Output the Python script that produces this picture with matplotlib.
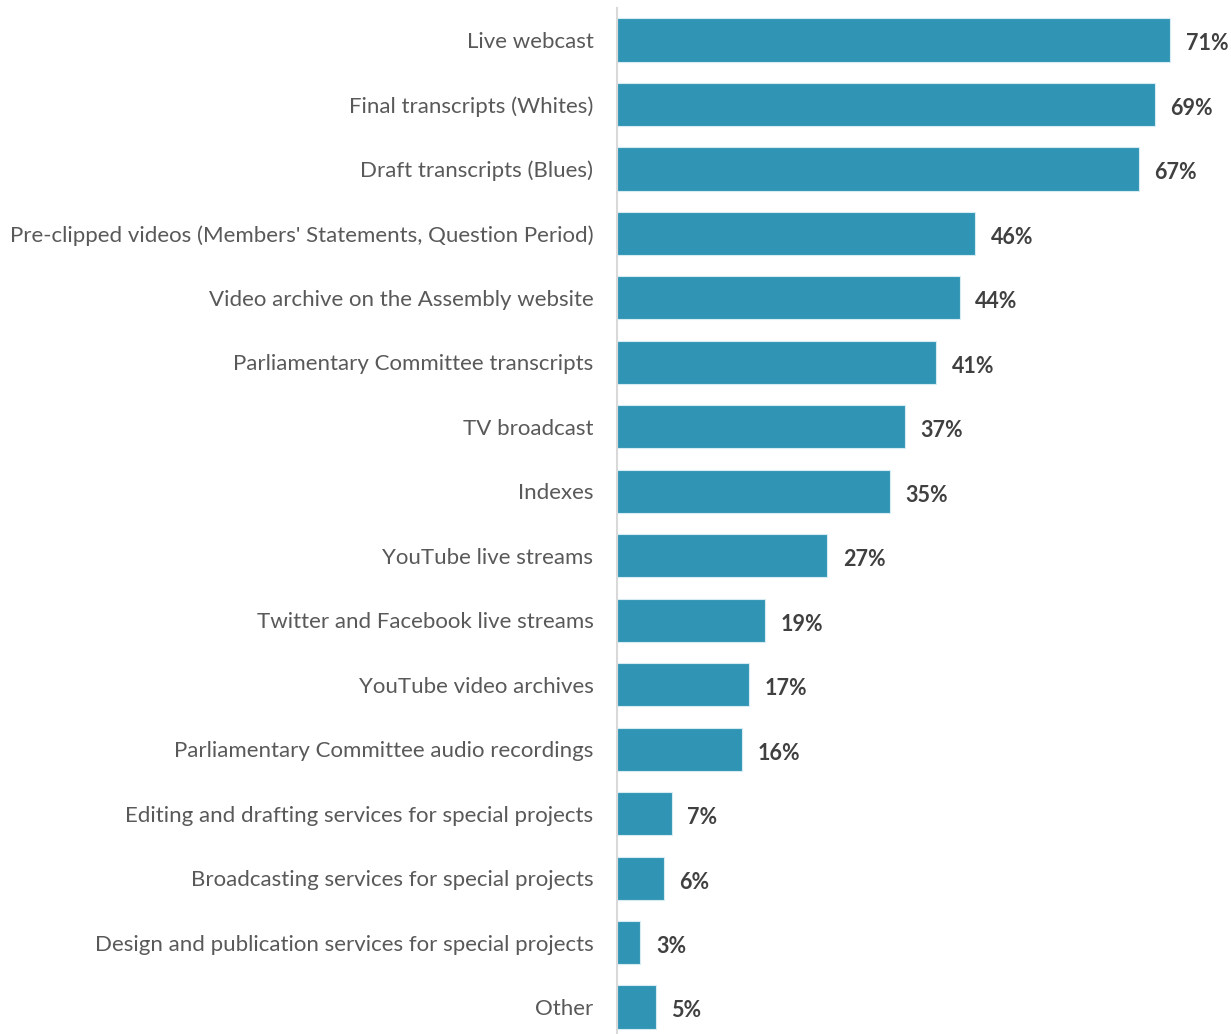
#
# Horizontal bar chart of services used
#

import matplotlib.pyplot as plt

# Categories and percentages
categories = [
    "Live webcast",
    "Final transcripts (Whites)",
    "Draft transcripts (Blues)",
    "Pre-clipped videos (Members' Statements, Question Period)",
    "Video archive on the Assembly website",
    "Parliamentary Committee transcripts",
    "TV broadcast",
    "Indexes",
    "YouTube live streams",
    "Twitter and Facebook live streams",
    "YouTube video archives",
    "Parliamentary Committee audio recordings",
    "Editing and drafting services for special projects",
    "Broadcasting services for special projects",
    "Design and publication services for special projects",
    "Other",
]
values = [71, 69, 67, 46, 44, 41, 37, 35, 27, 19, 17, 16, 7, 6, 3, 5]

plt.rcParams['font.family'] = ['Lato', 'DejaVu Sans']

W, H = 1231, 1034
fig = plt.figure(figsize=(W / 100, H / 100), dpi=100)

# axes placement in pixels
px_per_unit = 7.79
left_px = 617
row_px = 64.47
top_px = 40 - row_px / 2
height_px = row_px * len(categories)
ax = fig.add_axes([left_px / W, 1 - (top_px + height_px) / H,
                   (W - left_px) / W, height_px / H])

ypos = list(range(len(categories)))
ax.barh(ypos, values, height=0.67, color="#3095B4", edgecolor="#d5ecf3", linewidth=0.8)

for y, v in zip(ypos, values):
    ax.text(v + 2.0, y + 0.03, f"{v}%", va="center_baseline", ha="left", fontsize=15.5,
            fontweight="bold", color="#404040")

ax.set_xlim(0, (W - left_px) / px_per_unit)
ax.set_ylim(len(categories) - 0.5, -0.5)
ax.set_yticks(ypos)
ax.set_yticklabels(categories, fontsize=16, color="#595959", va="center_baseline")
ax.tick_params(axis="y", length=0, pad=17)
ax.set_xticks([])

for s in ["top", "right", "bottom"]:
    ax.spines[s].set_visible(False)
ax.spines["left"].set_color("#d9d9d9")
ax.spines["left"].set_linewidth(1.5)

plt.savefig("out.png", dpi=100)
